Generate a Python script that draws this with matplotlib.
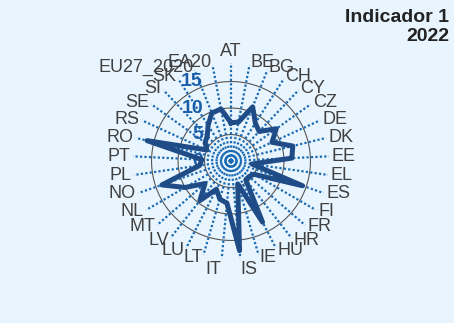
import numpy as np
import matplotlib
matplotlib.use("Agg")
import matplotlib.pyplot as plt
from matplotlib.transforms import offset_copy

plt.rcParams['font.family'] = ['Liberation Sans', 'DejaVu Sans']

# paises e valores do indicador
paises = ["AT", "BE", "BG", "CH", "CY", "CZ", "DE", "DK", "EE", "EL", "ES",
          "FI", "FR", "HR", "HU", "IE", "IS", "IT", "LT", "LU", "LV", "MT",
          "NL", "NO", "PL", "PT", "RO", "RS", "SE", "SI", "SK",
          "EU27_2020", "EA20"]
valores = [7.2, 7.5, 11, 8.5, 7.7, 10.5, 8.5, 12, 11.5, 4, 14.3,
           5, 4.5, 4.5, 13, 4.5, 17, 8, 7.5, 6, 9.5, 6.5,
           10, 13.8, 6, 5.5, 16.3, 5, 6, 6.5, 8,
           9.75, 10]
escala = [0, 5, 10, 15]
titulo = "Indicador 1\n2022"

fundo = "#e9f5fe"
azul_linha = "#1f4b87"
azul_eixo = "#1a6ab3"
cinza = "#404040"

n = len(paises)
ang = np.linspace(0, 2 * np.pi, n, endpoint=False)
rmax = 18.5

fig = plt.figure(figsize=(4.54, 3.23), dpi=100, facecolor=fundo)
ax = fig.add_axes([133 / 454, 64 / 323, 196 / 454, 196 / 323], projection='polar')
ax.set_facecolor(fundo)
ax.set_theta_zero_location('N')
ax.set_theta_direction(-1)
ax.set_ylim(0, rmax)
ax.grid(False)
ax.spines['polar'].set_visible(False)
ax.set_xticks([])
ax.set_yticks([])

# circulos de referencia
t = np.linspace(0, 2 * np.pi, 400)
for v in escala[1:]:
    ax.plot(t, np.full_like(t, v), color="#555555", lw=0.8, zorder=1)

# raios pontilhados
for a in ang:
    ax.plot([a, a], [0, rmax], color=azul_eixo, lw=1.6,
            linestyle=(0, (1, 1)), zorder=2)

# rotulos da escala
trans = offset_copy(ax.transData, fig=fig, x=-28, y=0, units='dots')
for v in escala:
    ax.text(0, v, str(v), transform=trans, ha='right', va='center',
            fontsize=14, fontweight='bold', color="#1a5ea8", zorder=3)

# poligono
ax.plot(np.append(ang, ang[0]), valores + [valores[0]], color=azul_linha,
        lw=3.6, zorder=4)

# nomes dos paises
for a, p in zip(ang, paises):
    s, c = np.sin(a), np.cos(a)
    ha = 'center' if abs(s) < 0.01 else ('left' if s > 0 else 'right')
    va = 'bottom' if c > 0.99 else ('top' if c < -0.99 else 'center')
    ax.text(a, 19.0, p, ha=ha, va=va, fontsize=13, color=cinza,
            clip_on=False, zorder=5)

fig.text(449 / 454, 1 - 9 / 323, titulo, ha='right', va='top', fontsize=14,
         fontweight='bold', color="#222222", linespacing=1.15)

fig.savefig("out.png", dpi=100, facecolor=fundo)
